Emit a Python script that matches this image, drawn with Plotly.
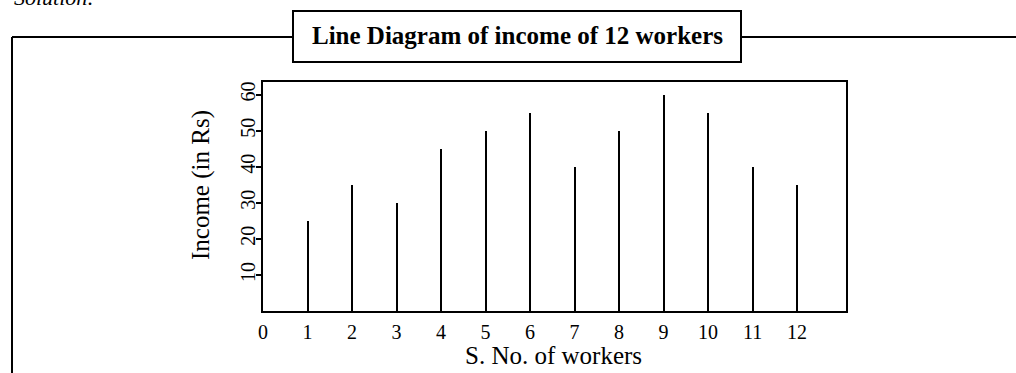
import plotly.graph_objects as go

# Income of 12 workers (line diagram)
workers = [1, 2, 3, 4, 5, 6, 7, 8, 9, 10, 11, 12]
income = [25, 35, 30, 45, 50, 55, 40, 50, 60, 55, 40, 35]
x_ticks = list(range(0, 13))
y_ticks = [10, 20, 30, 40, 50, 60]

W, H = 1016, 373
L, R, T, B = 263, 846, 82, 311
FONT = "Liberation Serif, Times New Roman, serif"


def px(x):
    return (x - L) / (R - L)


def py(y):
    return (B - y) / (B - T)


fig = go.Figure()
fig.add_trace(go.Bar(x=workers, y=income, width=0.045,
                     marker=dict(color="black", line_width=0)))

shapes = [
    # outer frame
    dict(type="line", x0=px(12), x1=px(12), y0=py(37), y1=py(380), line=dict(color="black", width=2)),
    dict(type="line", x0=px(12), x1=px(293), y0=py(37), y1=py(37), line=dict(color="black", width=2)),
    dict(type="line", x0=px(741), x1=px(1020), y0=py(37), y1=py(37), line=dict(color="black", width=2)),
    # title box
    dict(type="rect", x0=px(293), x1=px(741), y0=py(11), y1=py(62),
         line=dict(color="black", width=2), fillcolor="white"),
]
for s in shapes:
    s.update(xref="paper", yref="paper", layer="above")

annotations = [
    dict(text="<b>Line Diagram of income of 12 workers</b>", x=px(517), y=py(35),
         font=dict(size=25, family=FONT, color="black")),
    dict(text="Income (in Rs)", x=px(201), y=py(185), textangle=-90,
         font=dict(size=25, family=FONT, color="black")),
    dict(text="S. No. of workers", x=px(553), y=py(355),
         font=dict(size=25, family=FONT, color="black")),
    dict(text="<i>Solution:</i>", x=px(12), y=py(12), xanchor="left", yanchor="bottom",
         font=dict(size=22, family=FONT, color="black")),
]
for a in annotations:
    a.setdefault("xanchor", "center")
    a.setdefault("yanchor", "middle")
    a.update(xref="paper", yref="paper", showarrow=False)

fig.update_layout(
    width=W, height=H, autosize=False,
    margin=dict(l=L, r=W - R, t=T, b=H - B, pad=0),
    paper_bgcolor="white", plot_bgcolor="white",
    showlegend=False,
    font=dict(family=FONT, color="black", size=20),
    shapes=shapes, annotations=annotations,
    bargap=0,
)
fig.update_xaxes(range=[0, 13.1], tickvals=x_ticks, ticktext=[str(v) for v in x_ticks],
                 showgrid=False, zeroline=False, showline=True, linecolor="black",
                 linewidth=1.5, mirror=True, ticks="", tickfont=dict(size=20),
                 ticklabelstandoff=2)
fig.update_yaxes(range=[0, 63.5], tickvals=y_ticks, tickangle=-90,
                 showgrid=False, zeroline=False, showline=True, linecolor="black",
                 linewidth=1.5, mirror=True, ticks="outside", ticklen=5, tickwidth=2,
                 tickcolor="black", tickfont=dict(size=20), ticklabelstandoff=-7)

# page body has an 8px default margin; drop it so the figure sits at the window corner
fig.write_html("out.html", config={"displayModeBar": False},
               post_script="document.body.style.margin='0';")
